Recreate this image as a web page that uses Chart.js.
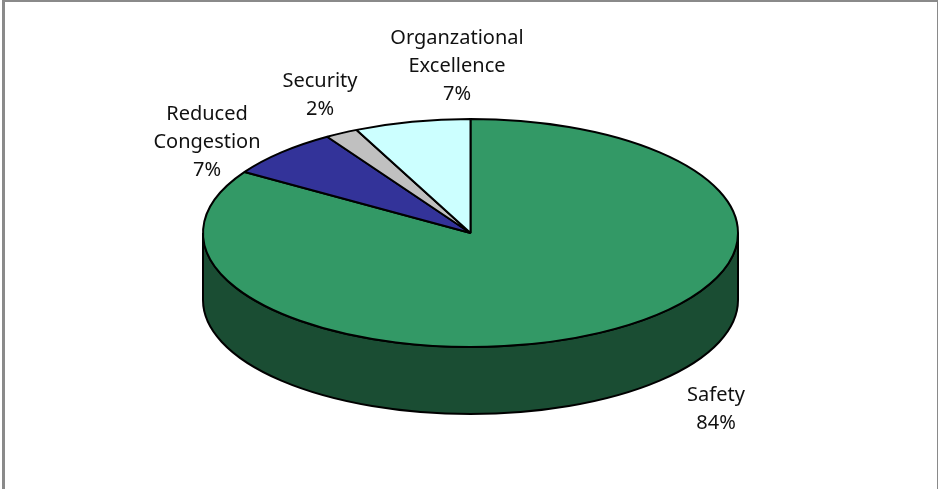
<!DOCTYPE html>
<html>
<head>
<meta charset="utf-8">
<title>Program shares</title>
<style>
    html, body { margin: 0; padding: 0; background: #fff; overflow: hidden; }
    #wrap { position: relative; width: 938px; height: 489px; overflow: hidden; }
    #frame { position: absolute; left: 2px; top: 0; width: 932px; height: 520px; border: 2px solid #8a8a8a; border-left-width: 3px; }
    canvas { position: absolute; left: 0; top: 0; display: block; }
</style>
<script src="https://cdn.jsdelivr.net/npm/chart.js@4"></script>
</head>
<body>
<div id="wrap">
    <canvas id="chart" width="938" height="489"></canvas>
    <div id="frame"></div>
</div>
<script>
const categories = [['Safety'], ['Reduced', 'Congestion'], ['Security'], ['Organzational', 'Excellence']];
const shares = [84, 7, 2, 7];
const sliceColors = ['#339966', '#333399', '#C0C0C0', '#CCFFFF'];
const wallColors = ['#1A4D33', '#1A1A4D', '#606060', '#668080'];

// tilt of the disc and height of its rim
const TILT = 0.426;
const DEPTH = 67;

// centre of each label block, in the order of the categories
const labelCenters = [[716, 395], [207, 114], [320, 81], [457, 38]];

const pie3d = {
    id: 'pie3d',

    // the rim: only the part of each slice facing the viewer shows
    beforeDatasetsDraw(chart) {
        const ctx = chart.ctx;
        chart.getDatasetMeta(0).data.forEach((arc, i) => {
            const from = Math.max(arc.startAngle, 0);
            const to = Math.min(arc.endAngle, Math.PI);
            if (to <= from) return;
            const rx = arc.outerRadius;
            const ry = rx * TILT;
            ctx.save();
            ctx.beginPath();
            ctx.ellipse(arc.x, arc.y, rx, ry, 0, from, to);
            ctx.ellipse(arc.x, arc.y + DEPTH, rx, ry, 0, to, from, true);
            ctx.closePath();
            ctx.fillStyle = wallColors[i];
            ctx.fill();
            ctx.lineWidth = arc.options.borderWidth;
            ctx.strokeStyle = arc.options.borderColor;
            ctx.stroke();
            ctx.restore();
        });
    },

    // squash the slices, but keep the outline an even width
    beforeDatasetDraw(chart, args) {
        const ctx = chart.ctx;
        const first = args.meta.data[0];
        ctx.save();
        ctx.translate(first.x, first.y);
        ctx.scale(1, TILT);
        ctx.translate(-first.x, -first.y);
        ctx.stroke = function () {
            CanvasRenderingContext2D.prototype.save.call(ctx);
            ctx.setTransform(1, 0, 0, 1, 0, 0);
            CanvasRenderingContext2D.prototype.stroke.call(ctx);
            CanvasRenderingContext2D.prototype.restore.call(ctx);
        };
    },

    afterDatasetDraw(chart) {
        delete chart.ctx.stroke;
        chart.ctx.restore();
    },

    afterDraw(chart) {
        const ctx = chart.ctx;
        const lineHeight = 28;
        ctx.save();
        ctx.font = '20px "Noto Sans"';
        ctx.fillStyle = '#111';
        ctx.textAlign = 'center';
        ctx.textBaseline = 'middle';
        categories.forEach((cat, i) => {
            const lines = cat.concat(shares[i] + '%');
            const [x, y] = labelCenters[i];
            lines.forEach((line, n) => ctx.fillText(line, x, y + n * lineHeight));
        });
        ctx.restore();
    }
};

new Chart(document.getElementById('chart').getContext('2d'), {
    type: 'pie',
    data: {
        labels: categories.map(c => c.join(' ')),
        datasets: [{
            data: shares,
            backgroundColor: sliceColors,
            borderColor: '#000',
            borderWidth: 2,
            clip: false
        }]
    },
    plugins: [pie3d],
    options: {
        responsive: false,
        animation: false,
        radius: 267.5,
        layout: { padding: { left: 3, bottom: 23 } },
        plugins: {
            legend: { display: false },
            tooltip: { enabled: false }
        }
    }
});
</script>
</body>
</html>
